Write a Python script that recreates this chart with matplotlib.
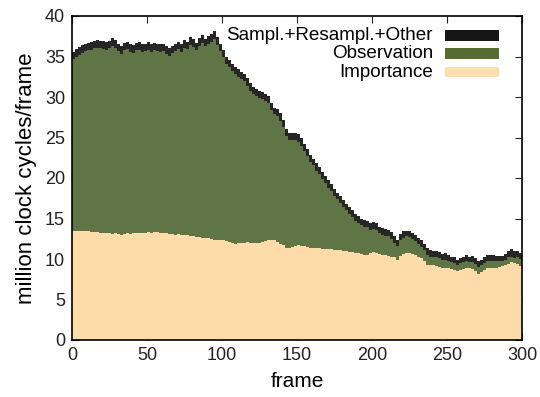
import matplotlib
matplotlib.use("Agg")
import matplotlib.pyplot as plt
from matplotlib.patches import Rectangle

plt.rcParams['font.family'] = ['Liberation Sans', 'DejaVu Sans']

# frames (every second frame, each bar covers two frames)
frames = list(range(0, 300, 2))

# total height of the stack (million clock cycles/frame)
total = [
    35.6, 35.9, 36.2, 36.4, 36.6, 36.7, 36.8, 36.9, 37.0, 36.9,
    36.9, 36.8, 36.9, 37.3, 37.0, 36.6, 36.3, 36.7, 36.8, 36.5,
    36.4, 36.7, 36.8, 36.5, 36.6, 36.8, 36.6, 36.7, 36.6, 36.5,
    36.6, 36.3, 36.1, 36.3, 36.6, 36.8, 36.5, 37.0, 36.8, 37.4,
    37.1, 36.7, 37.3, 37.6, 37.2, 37.5, 37.8, 38.1, 37.4, 36.6,
    35.8, 35.0, 34.6, 34.1, 33.7, 33.4, 33.1, 32.8, 32.3, 31.7,
    31.2, 31.0, 30.8, 30.6, 30.4, 30.1, 29.3, 28.7, 28.5, 28.0,
    27.2, 26.0, 25.6, 25.6, 25.6, 25.4, 24.9, 24.2, 23.6, 22.9,
    22.4, 21.8, 21.4, 20.8, 20.2, 19.7, 19.2, 18.7, 18.2, 17.8,
    17.3, 16.8, 16.4, 16.0, 15.6, 15.3, 15.0, 14.8, 14.7, 14.4,
    14.6, 14.4, 14.0, 13.8, 13.7, 13.6, 13.3, 12.8, 12.4, 13.1,
    13.4, 13.5, 13.5, 13.2, 13.0, 12.6, 12.3, 11.9, 11.3, 11.1,
    11.0, 11.0, 10.9, 10.6, 10.7, 10.5, 10.3, 10.2, 9.9, 10.1,
    10.3, 10.5, 10.3, 10.4, 10.1, 9.7, 9.9, 10.3, 10.5, 10.5,
    10.5, 10.4, 10.4, 10.4, 10.6, 11.0, 11.2, 11.0, 11.0, 10.8,
]

importance = [
    13.4, 13.45, 13.4, 13.45, 13.4, 13.4, 13.35, 13.3, 13.3, 13.25,
    13.2, 13.25, 13.2, 13.1, 13.15, 13.05, 13.0, 13.1, 13.15, 13.1,
    13.2, 13.25, 13.2, 13.25, 13.2, 13.3, 13.25, 13.3, 13.3, 13.2,
    13.2, 13.15, 13.1, 13.1, 13.0, 13.05, 13.0, 12.95, 13.0, 12.9,
    12.85, 12.75, 12.7, 12.6, 12.55, 12.6, 12.5, 12.4, 12.35, 12.3,
    12.3, 12.2, 12.1, 12.0, 11.9, 11.95, 12.0, 12.0, 12.05, 12.0,
    12.0, 11.95, 12.0, 12.1, 12.2, 12.3, 12.35, 12.3, 12.1, 11.9,
    11.7, 11.4, 11.3, 11.45, 11.6, 11.7, 11.65, 11.6, 11.5, 11.35,
    11.3, 11.3, 11.3, 11.25, 11.2, 11.2, 11.2, 11.15, 11.1, 11.05,
    11.0, 11.0, 10.9, 10.9, 10.8, 10.7, 10.6, 10.5, 10.5, 10.7,
    10.9, 10.8, 10.6, 10.5, 10.45, 10.4, 10.3, 10.2, 9.9, 10.4,
    10.6, 10.7, 10.7, 10.6, 10.5, 10.3, 10.1, 9.8, 9.3, 9.2,
    9.2, 9.1, 9.0, 8.9, 8.9, 8.85, 8.8, 8.7, 8.5, 8.6,
    8.8, 8.9, 8.85, 8.8, 8.5, 8.2, 8.4, 8.7, 8.9, 8.9,
    8.9, 8.95, 9.0, 9.1, 9.2, 9.4, 9.6, 9.5, 9.4, 9.1,
]

other = [
    0.9, 0.9, 1.0, 0.95, 0.9, 0.95, 1.0, 0.9, 0.95, 0.9,
    1.0, 0.95, 0.9, 1.0, 0.95, 0.9, 1.0, 0.95, 0.9, 1.0,
    0.95, 0.9, 1.0, 0.95, 0.9, 0.95, 1.0, 0.9, 0.95, 1.0,
    0.9, 0.95, 1.0, 0.9, 0.95, 0.9, 1.0, 0.95, 0.9, 1.0,
    0.95, 0.9, 1.0, 0.95, 0.9, 1.0, 0.95, 0.9, 1.0, 0.95,
    0.9, 0.95, 0.9, 0.85, 0.9, 0.95, 0.9, 0.85, 0.9, 0.9,
    0.85, 0.9, 0.95, 0.9, 0.85, 0.9, 0.9, 0.85, 0.9, 0.95,
    0.9, 0.85, 0.9, 0.9, 0.85, 0.9, 0.9, 0.85, 0.9, 0.9,
    0.85, 0.9, 0.85, 0.9, 0.85, 0.9, 0.85, 0.9, 0.85, 0.9,
    0.85, 0.8, 0.85, 0.8, 0.85, 0.8, 0.8, 0.85, 0.8, 0.85,
    0.9, 0.85, 0.8, 0.85, 0.8, 0.8, 0.85, 0.8, 0.75, 0.8,
    0.75, 0.7, 0.75, 0.7, 0.75, 0.8, 0.8, 0.75, 0.8, 0.8,
    0.75, 0.8, 0.8, 0.75, 0.8, 0.75, 0.7, 0.7, 0.6, 0.65,
    0.7, 0.7, 0.7, 0.75, 0.7, 0.65, 0.7, 0.75, 0.8, 0.75,
    0.75, 0.7, 0.7, 0.7, 0.75, 0.8, 0.9, 0.85, 0.8, 0.8,
]

observation = [t - i - o for t, i, o in zip(total, importance, other)]

labels = ["Sampl.+Resampl.+Other", "Observation", "Importance"]
colors = ["#151515", "#556b2f", "#ffdead"]          # legend samples
bar_colors = ["#262626", "#5f7546", "#fddcaa"]      # striped bars look slightly lighter

xticks = [0, 50, 100, 150, 200, 250, 300]
yticks = [0, 5, 10, 15, 20, 25, 30, 35, 40]

W, H = 540, 397
fig = plt.figure(figsize=(W / 100, H / 100), dpi=100)
ax = fig.add_axes([72 / W, 1 - 340 / H, 450 / W, 324 / H])

bw = 2.0
ax.bar(frames, importance, width=bw, align='edge', color=bar_colors[2],
       linewidth=0, zorder=2)
ax.bar(frames, observation, width=bw, bottom=importance, align='edge',
       color=bar_colors[1], linewidth=0, zorder=2)
bottom2 = [i + o for i, o in zip(importance, observation)]
ax.bar(frames, other, width=bw, bottom=bottom2, align='edge',
       color=bar_colors[0], linewidth=0, zorder=2)

ax.set_xlim(0, 300)
ax.set_ylim(0, 40)
ax.set_xticks(xticks)
ax.set_yticks(yticks)
ax.tick_params(direction='in', length=5, width=0.8, top=True, right=True,
               labelsize=13, pad=5, colors='#222222')
for s in ax.spines.values():
    s.set_linewidth(1.2)
    s.set_zorder(5)

ax.set_xlabel("frame", fontsize=15, labelpad=6)
ax.set_ylabel("million clock cycles/frame", fontsize=16, labelpad=6)

# legend in gnuplot style: right-aligned text followed by a sample box
ys = [40, 58.3, 76.7]
for lab, col, yb in zip(labels, colors, ys):
    fig.text(433 / W, 1 - yb / H, lab, ha='right', va='baseline', fontsize=13.6)
    fig.patches.append(Rectangle((445 / W, 1 - (yb + 0.5) / H), 54 / W, 10.5 / H,
                                 transform=fig.transFigure, facecolor=col,
                                 edgecolor='none', figure=fig))

fig.savefig("out.png", dpi=100)
